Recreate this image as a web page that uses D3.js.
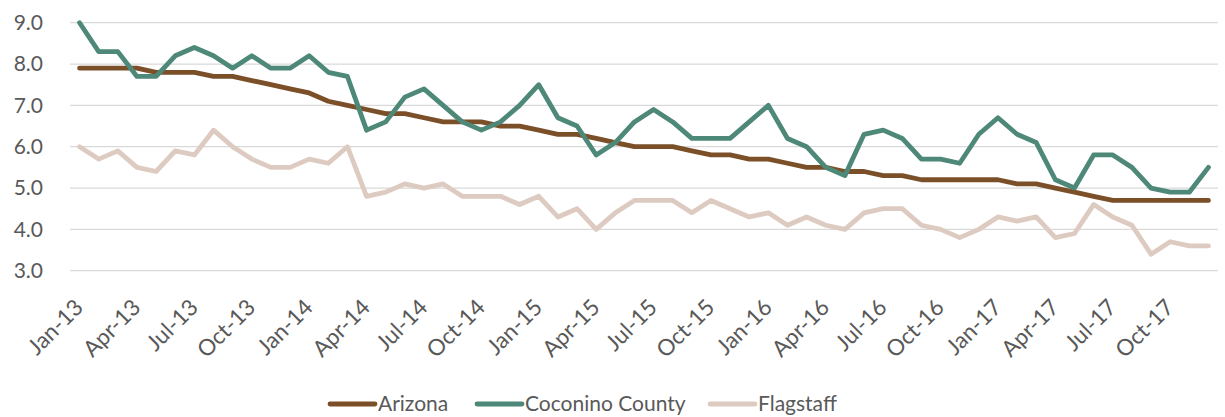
<!DOCTYPE html>
<html>
<head>
<meta charset="utf-8">
<script src="https://cdn.jsdelivr.net/npm/d3@7"></script>
<style>
  body { margin: 0; background: #fff; }
  text { font-family: Lato, "Open Sans", sans-serif; fill: #595959; }
</style>
</head>
<body>
<div id="chart"></div>
<script>
var months = ["Jan", "Feb", "Mar", "Apr", "May", "Jun", "Jul", "Aug", "Sep", "Oct", "Nov", "Dec"];
var years = ["13", "14", "15", "16", "17"];
var categories = [];
years.forEach(function(y) {
  months.forEach(function(m) { categories.push(m + "-" + y); });
});

var arizona = [7.9, 7.9, 7.9, 7.9, 7.8, 7.8, 7.8, 7.7, 7.7, 7.6, 7.5, 7.4,
  7.3, 7.1, 7.0, 6.9, 6.8, 6.8, 6.7, 6.6, 6.6, 6.6, 6.5, 6.5,
  6.4, 6.3, 6.3, 6.2, 6.1, 6.0, 6.0, 6.0, 5.9, 5.8, 5.8, 5.7,
  5.7, 5.6, 5.5, 5.5, 5.4, 5.4, 5.3, 5.3, 5.2, 5.2, 5.2, 5.2,
  5.2, 5.1, 5.1, 5.0, 4.9, 4.8, 4.7, 4.7, 4.7, 4.7, 4.7, 4.7];
var coconino = [9.0, 8.3, 8.3, 7.7, 7.7, 8.2, 8.4, 8.2, 7.9, 8.2, 7.9, 7.9,
  8.2, 7.8, 7.7, 6.4, 6.6, 7.2, 7.4, 7.0, 6.6, 6.4, 6.6, 7.0,
  7.5, 6.7, 6.5, 5.8, 6.1, 6.6, 6.9, 6.6, 6.2, 6.2, 6.2, 6.6,
  7.0, 6.2, 6.0, 5.5, 5.3, 6.3, 6.4, 6.2, 5.7, 5.7, 5.6, 6.3,
  6.7, 6.3, 6.1, 5.2, 5.0, 5.8, 5.8, 5.5, 5.0, 4.9, 4.9, 5.5];
var flagstaff = [6.0, 5.7, 5.9, 5.5, 5.4, 5.9, 5.8, 6.4, 6.0, 5.7, 5.5, 5.5,
  5.7, 5.6, 6.0, 4.8, 4.9, 5.1, 5.0, 5.1, 4.8, 4.8, 4.8, 4.6,
  4.8, 4.3, 4.5, 4.0, 4.4, 4.7, 4.7, 4.7, 4.4, 4.7, 4.5, 4.3,
  4.4, 4.1, 4.3, 4.1, 4.0, 4.4, 4.5, 4.5, 4.1, 4.0, 3.8, 4.0,
  4.3, 4.2, 4.3, 3.8, 3.9, 4.6, 4.3, 4.1, 3.4, 3.7, 3.6, 3.6];
var yTicks = [3.0, 4.0, 5.0, 6.0, 7.0, 8.0, 9.0];
var seriesNames = ["Arizona", "Coconino County", "Flagstaff"];
var seriesColors = ["#7b4f28", "#4e8878", "#ddcbc1"];

var width = 1225, height = 417;
var margin = { top: 22.7, right: 7, bottom: 146.3, left: 70 };
var innerW = width - margin.left - margin.right;
var innerH = height - margin.top - margin.bottom;

var svg = d3.select("#chart")
  .append("svg")
  .attr("width", width)
  .attr("height", height);

var g = svg.append("g")
  .attr("transform", "translate(" + margin.left + "," + margin.top + ")");

var x = d3.scaleBand().domain(categories).range([0, innerW]);
var y = d3.scaleLinear().domain([3, 9]).range([innerH, 0]);

// gridlines
g.selectAll("line.grid")
  .data(yTicks)
  .enter()
  .append("line")
  .attr("class", "grid")
  .attr("x1", 0)
  .attr("x2", innerW)
  .attr("y1", function(d) { return y(d); })
  .attr("y2", function(d) { return y(d); })
  .attr("stroke", "#d9d9d9")
  .attr("stroke-width", 1.3);

// y axis labels
var yAxis = d3.axisLeft(y).tickValues(yTicks).tickFormat(d3.format(".1f")).tickSize(0).tickPadding(27);
g.append("g")
  .call(yAxis)
  .call(function(s) { s.select(".domain").remove(); })
  .selectAll("text")
  .style("font-size", "21px")
  .attr("fill", "#595959");

// x axis labels
var xLabels = categories.filter(function(d, i) { return i % 3 === 0; });
var xAxis = d3.axisBottom(x).tickValues(xLabels).tickSize(0);
var xg = g.append("g")
  .attr("transform", "translate(0," + innerH + ")")
  .call(xAxis);
xg.select(".domain").remove();
xg.selectAll("text")
  .style("font-size", "22.5px")
  .attr("fill", "#595959")
  .attr("text-anchor", "end")
  .attr("dy", "0")
  .attr("y", 0)
  .attr("transform", "translate(5,38) rotate(-45)");

// lines
var allSeries = [arizona, coconino, flagstaff];
var line = d3.line()
  .x(function(d, i) { return x(categories[i]) + x.bandwidth() / 2; })
  .y(function(d) { return y(d); });

g.selectAll("path.series")
  .data(allSeries)
  .enter()
  .append("path")
  .attr("class", "series")
  .attr("d", line)
  .attr("fill", "none")
  .attr("stroke", function(d, i) { return seriesColors[i]; })
  .attr("stroke-width", 4.8)
  .attr("stroke-linejoin", "round")
  .attr("stroke-linecap", "round");

// legend
var legendX = [330, 477, 710];
var legend = svg.selectAll("g.legend")
  .data(seriesNames)
  .enter()
  .append("g")
  .attr("class", "legend")
  .attr("transform", function(d, i) { return "translate(" + legendX[i] + ",404)"; });
legend.append("line")
  .attr("x1", 0)
  .attr("x2", 45)
  .attr("stroke", function(d, i) { return seriesColors[i]; })
  .attr("stroke-width", 4.8)
  .attr("stroke-linecap", "round");
legend.append("text")
  .attr("x", 48)
  .attr("dy", "0.35em")
  .style("font-size", "21px")
  .text(function(d) { return d; });
</script>
</body>
</html>
